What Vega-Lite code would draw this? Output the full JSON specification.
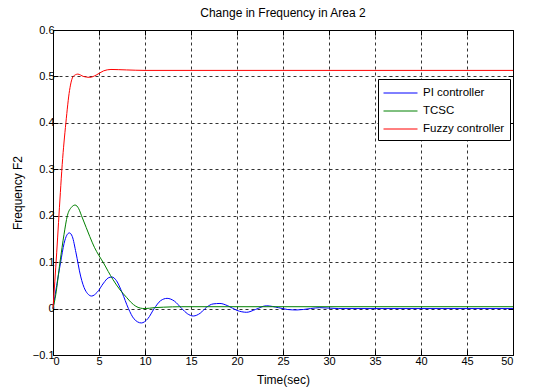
{
  "$schema": "https://vega.github.io/schema/vega-lite/v6.json",
  "autosize": {"type": "none"},
  "width": 460,
  "height": 325,
  "padding": {"left": 53, "top": 30, "right": 20, "bottom": 35},
  "background": "white",
  "title": {"text": "Change in Frequency in Area 2", "fontSize": 12, "fontWeight": "normal", "font": "Liberation Sans", "color": "#000", "offset": 4},
  "config": {
    "view": {"stroke": "#000", "strokeWidth": 1},
    "axis": {"labelFont": "Liberation Sans", "labelFontSize": 11, "labelColor": "#000", "titleFont": "Liberation Sans", "titleFontSize": 12, "titleFontWeight": "normal", "titleColor": "#000", "domain": false, "tickColor": "#000", "tickSize": -5, "gridColor": "#000", "gridDash": [3, 3], "gridOpacity": 0.8, "gridWidth": 1}
  },
  "data": {"values": [
    {"s": "PI controller", "t": 0, "v": 0},
    {"s": "PI controller", "t": 0.4, "v": 0.05},
    {"s": "PI controller", "t": 0.83, "v": 0.1},
    {"s": "PI controller", "t": 1.2, "v": 0.14},
    {"s": "PI controller", "t": 1.5, "v": 0.158},
    {"s": "PI controller", "t": 1.78, "v": 0.163},
    {"s": "PI controller", "t": 2.1, "v": 0.155},
    {"s": "PI controller", "t": 2.5, "v": 0.12},
    {"s": "PI controller", "t": 3.0, "v": 0.07},
    {"s": "PI controller", "t": 3.5, "v": 0.04},
    {"s": "PI controller", "t": 4.2, "v": 0.027},
    {"s": "PI controller", "t": 4.8, "v": 0.035},
    {"s": "PI controller", "t": 5.5, "v": 0.055},
    {"s": "PI controller", "t": 6.0, "v": 0.066},
    {"s": "PI controller", "t": 6.4, "v": 0.068},
    {"s": "PI controller", "t": 6.9, "v": 0.06},
    {"s": "PI controller", "t": 7.5, "v": 0.035},
    {"s": "PI controller", "t": 8.2, "v": 0.0},
    {"s": "PI controller", "t": 8.8, "v": -0.022},
    {"s": "PI controller", "t": 9.6, "v": -0.031},
    {"s": "PI controller", "t": 10.3, "v": -0.022},
    {"s": "PI controller", "t": 11.0, "v": 0.0},
    {"s": "PI controller", "t": 11.7, "v": 0.017},
    {"s": "PI controller", "t": 12.4, "v": 0.022},
    {"s": "PI controller", "t": 13.2, "v": 0.016},
    {"s": "PI controller", "t": 14.0, "v": 0.0},
    {"s": "PI controller", "t": 14.6, "v": -0.011},
    {"s": "PI controller", "t": 15.25, "v": -0.016},
    {"s": "PI controller", "t": 16.0, "v": -0.01},
    {"s": "PI controller", "t": 16.7, "v": 0.003},
    {"s": "PI controller", "t": 17.4, "v": 0.01},
    {"s": "PI controller", "t": 18.15, "v": 0.011},
    {"s": "PI controller", "t": 19.0, "v": 0.006},
    {"s": "PI controller", "t": 20.0, "v": -0.004},
    {"s": "PI controller", "t": 21.05, "v": -0.008},
    {"s": "PI controller", "t": 22.0, "v": -0.002},
    {"s": "PI controller", "t": 23.2, "v": 0.006},
    {"s": "PI controller", "t": 24.5, "v": 0.002},
    {"s": "PI controller", "t": 25.5, "v": -0.002},
    {"s": "PI controller", "t": 26.5, "v": -0.003},
    {"s": "PI controller", "t": 28.0, "v": 0.0},
    {"s": "PI controller", "t": 29.0, "v": 0.002},
    {"s": "PI controller", "t": 31.0, "v": 0.0},
    {"s": "PI controller", "t": 50.0, "v": 0.0},
    {"s": "TCSC", "t": 0, "v": 0},
    {"s": "TCSC", "t": 0.3, "v": 0.03},
    {"s": "TCSC", "t": 0.76, "v": 0.1},
    {"s": "TCSC", "t": 1.2, "v": 0.16},
    {"s": "TCSC", "t": 1.56, "v": 0.2},
    {"s": "TCSC", "t": 2.0, "v": 0.218},
    {"s": "TCSC", "t": 2.4, "v": 0.223},
    {"s": "TCSC", "t": 2.8, "v": 0.215},
    {"s": "TCSC", "t": 3.1, "v": 0.2},
    {"s": "TCSC", "t": 3.6, "v": 0.175},
    {"s": "TCSC", "t": 4.0, "v": 0.155},
    {"s": "TCSC", "t": 4.5, "v": 0.132},
    {"s": "TCSC", "t": 5.0, "v": 0.114},
    {"s": "TCSC", "t": 5.47, "v": 0.099},
    {"s": "TCSC", "t": 6.0, "v": 0.08},
    {"s": "TCSC", "t": 6.5, "v": 0.063},
    {"s": "TCSC", "t": 7.3, "v": 0.04},
    {"s": "TCSC", "t": 8.0, "v": 0.024},
    {"s": "TCSC", "t": 8.5, "v": 0.013},
    {"s": "TCSC", "t": 9.0, "v": 0.005},
    {"s": "TCSC", "t": 9.5, "v": 0.001},
    {"s": "TCSC", "t": 10.0, "v": 0.0},
    {"s": "TCSC", "t": 11.0, "v": 0.002},
    {"s": "TCSC", "t": 12.0, "v": 0.003},
    {"s": "TCSC", "t": 14.0, "v": 0.004},
    {"s": "TCSC", "t": 50.0, "v": 0.004},
    {"s": "Fuzzy controller", "t": 0, "v": 0},
    {"s": "Fuzzy controller", "t": 0.4, "v": 0.12},
    {"s": "Fuzzy controller", "t": 0.8, "v": 0.25},
    {"s": "Fuzzy controller", "t": 1.0, "v": 0.31},
    {"s": "Fuzzy controller", "t": 1.4, "v": 0.4},
    {"s": "Fuzzy controller", "t": 1.8, "v": 0.47},
    {"s": "Fuzzy controller", "t": 2.2, "v": 0.5},
    {"s": "Fuzzy controller", "t": 2.7, "v": 0.505},
    {"s": "Fuzzy controller", "t": 3.3, "v": 0.5},
    {"s": "Fuzzy controller", "t": 4.0, "v": 0.498},
    {"s": "Fuzzy controller", "t": 4.7, "v": 0.503},
    {"s": "Fuzzy controller", "t": 5.5, "v": 0.512},
    {"s": "Fuzzy controller", "t": 6.3, "v": 0.515},
    {"s": "Fuzzy controller", "t": 8.0, "v": 0.514},
    {"s": "Fuzzy controller", "t": 10.0, "v": 0.513},
    {"s": "Fuzzy controller", "t": 50.0, "v": 0.513}
  ]},
  "layer": [
    {
      "mark": {"type": "line", "strokeWidth": 1, "interpolate": "monotone"},
      "encoding": {
        "x": {"field": "t", "type": "quantitative", "scale": {"domain": [0, 50], "nice": false}, "axis": {"title": "Time(sec)", "values": [0, 5, 10, 15, 20, 25, 30, 35, 40, 45, 50], "labelPadding": 5, "titlePadding": 8, "grid": true}},
        "y": {"field": "v", "type": "quantitative", "scale": {"domain": [-0.1, 0.6], "nice": false, "zero": false}, "axis": {"title": "Frequency F2", "values": [-0.1, 0, 0.1, 0.2, 0.3, 0.4, 0.5, 0.6], "format": "~g", "labelPadding": 4, "titlePadding": 8, "grid": true}},
        "color": {"field": "s", "type": "nominal", "sort": ["PI controller", "TCSC", "Fuzzy controller"], "scale": {"domain": ["PI controller", "TCSC", "Fuzzy controller"], "range": ["#0000ff", "#008000", "#ff0000"]}, "legend": {"title": null, "orient": "none", "legendX": 325, "legendY": 49, "symbolType": "M-1,0L3,0", "symbolSize": 289, "symbolStrokeWidth": 1, "labelFont": "Liberation Sans", "labelFontSize": 11.5, "labelColor": "#000", "strokeColor": "#000", "fillColor": "white", "padding": 5, "rowPadding": 3, "cornerRadius": 0, "labelOffset": 22}}
      }
    },
    {
      "mark": {"type": "line", "strokeOpacity": 0},
      "encoding": {
        "x": {"field": "t", "type": "quantitative", "axis": {"orient": "top", "title": null, "labels": false, "grid": false, "values": [0, 5, 10, 15, 20, 25, 30, 35, 40, 45, 50]}},
        "y": {"field": "v", "type": "quantitative", "axis": {"orient": "right", "title": null, "labels": false, "grid": false, "values": [-0.1, 0, 0.1, 0.2, 0.3, 0.4, 0.5, 0.6]}},
        "detail": {"field": "s"}
      }
    }
  ],
  "resolve": {"axis": {"x": "independent", "y": "independent"}}
}
